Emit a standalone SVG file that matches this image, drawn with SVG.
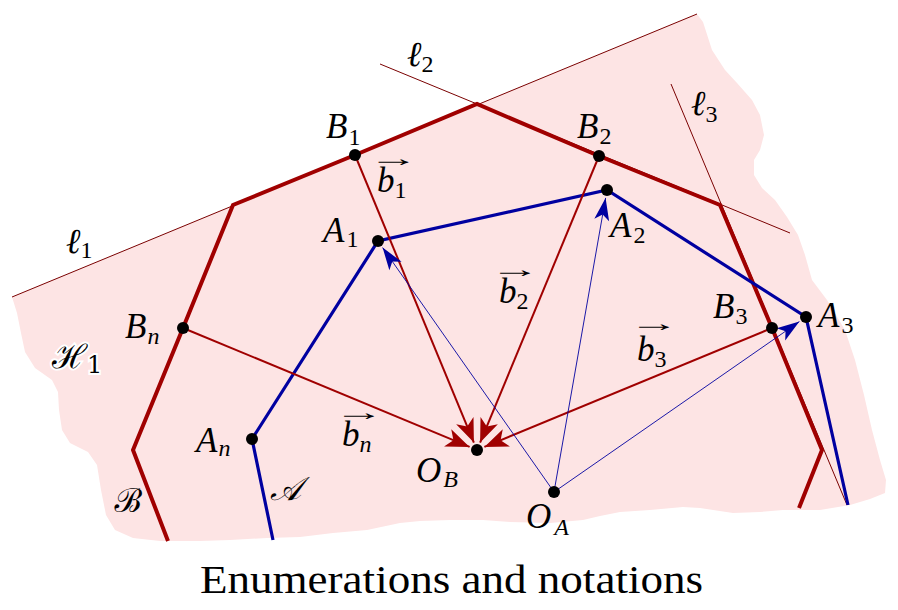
<svg xmlns="http://www.w3.org/2000/svg" width="898" height="610" viewBox="0 0 898 610">
<style>
.lbl{font-family:"Liberation Serif","DejaVu Serif",serif;font-style:italic;font-size:35px;fill:#000}
.sub{font-size:24px;font-style:normal}
.subi{font-size:24px;font-style:italic}
.vec{font-family:"Liberation Serif","DejaVu Serif",serif;font-size:24px;fill:#000}
.cal{font-family:"DejaVu Serif","Noto Sans",serif;font-style:italic;font-size:33px;fill:#000}
.thin{stroke:#7a0000;stroke-width:1;fill:none}
.poly-b{stroke:#a00000;stroke-width:4;fill:none;stroke-linejoin:miter}
.poly-a{stroke:#0000a0;stroke-width:3.2;fill:none;stroke-linejoin:miter}
.vb{stroke:#a00000;stroke-width:2;fill:none;marker-end:url(#ahr)}
.va{stroke:#0000a0;stroke-width:0.9;fill:none;marker-end:url(#ahb)}
.dot{fill:#000}
</style>
<defs>
<marker id="ahr" markerUnits="userSpaceOnUse" markerWidth="30" markerHeight="30" viewBox="-22 -11 24 22" refX="0" refY="0" orient="auto">
<path d="M0,0 L-19,-7.5 L-14,0 L-19,7.5 Z" fill="#a00000"/>
</marker>
<marker id="ahb" markerUnits="userSpaceOnUse" markerWidth="30" markerHeight="30" viewBox="-22 -11 24 22" refX="0" refY="0" orient="auto">
<path d="M0,0 L-18,-6 L-13.5,0 L-18,6 Z" fill="#0000a0"/>
</marker>
</defs>
<rect width="898" height="610" fill="#fff"/>
<g id="region-H1">
<path d="M12,297 L697,14 L703,22 L712,50 L725,70 L737,83 L752,100 L760,115 L764,135 L760,150 L754,160 L754,175 L762,188 L775,200 L787,217 L798,235 L805,255 L812,280 L827,300 L845,330 L855,360 L864,395 L872,430 L880,460 L886,480 L885,493 L870,499 L850,505 L820,510 L783,510 L760,512 L733,513 L700,508 L683,507 L650,510 L620,512 L600,516 L583,520 L550,523 L510,522 L483,520 L450,520 L420,521 L400,523 L367,530 L333,533 L300,537 L267,538 L230,540 L200,541 L160,541 L133,538 L115,530 L106,515 L101,490 L97,465 L88,452 L70,443 L62,430 L59,410 L58,392 L52,380 L35,368 L25,352 L21,333 L17,313 Z" fill="#fde4e4"/>
</g>
<g id="lines">
<line class="thin" x1="12" y1="297" x2="697" y2="14"/>
<line class="thin" x1="380" y1="64" x2="790" y2="233"/>
<line class="thin" x1="671" y1="84" x2="847" y2="505"/>
</g>
<g id="polygon-B">
<polyline class="poly-b" points="168,541 133,450 183,328 233,205 355,155 477,104 599,156 720,205 772,328 822,450 799,508"/>
</g>
<g id="polygon-A">
<polyline class="poly-a" points="273,540 252,439 378,241 607,190 806,317 848,505"/>
</g>
<g id="connectors">
<line class="vb" x1="355" y1="155" x2="473.9" y2="442.6"/>
<line class="vb" x1="599" y1="156" x2="480.1" y2="442.6"/>
<line class="vb" x1="183" y1="328" x2="469.6" y2="446.9"/>
<line class="vb" x1="772" y1="328" x2="484.4" y2="446.9"/>
<line class="va" x1="554" y1="492" x2="382.6" y2="247.6"/>
<line class="va" x1="554" y1="492" x2="605.6" y2="197.9"/>
<line class="va" x1="554" y1="492" x2="799.4" y2="321.6"/>
</g>
<g id="node-B1"><circle class="dot" cx="355" cy="155" r="6"/><text class="lbl" x="326" y="138">B<tspan class="sub" dx="1" dy="7">1</tspan></text></g>
<g id="node-B2"><circle class="dot" cx="599" cy="156" r="6"/><text class="lbl" x="577" y="138">B<tspan class="sub" dx="1" dy="6">2</tspan></text></g>
<g id="node-B3"><circle class="dot" cx="772" cy="328" r="6"/><text class="lbl" x="713" y="318">B<tspan class="sub" dx="1" dy="6">3</tspan></text></g>
<g id="node-Bn"><circle class="dot" cx="183" cy="328" r="6"/><text class="lbl" x="125" y="338">B<tspan class="subi" dx="1" dy="6">n</tspan></text></g>
<g id="node-A1"><circle class="dot" cx="378" cy="241" r="6"/><text class="lbl" x="323" y="242">A<tspan class="sub" dx="2" dy="5">1</tspan></text></g>
<g id="node-A2"><circle class="dot" cx="607" cy="190" r="6"/><text class="lbl" x="610" y="237">A<tspan class="sub" dx="2" dy="6">2</tspan></text></g>
<g id="node-A3"><circle class="dot" cx="806" cy="317" r="6"/><text class="lbl" x="818" y="327">A<tspan class="sub" dx="2" dy="6">3</tspan></text></g>
<g id="node-An"><circle class="dot" cx="252" cy="439" r="6"/><text class="lbl" x="196" y="452">A<tspan class="subi" dx="1" dy="4">n</tspan></text></g>
<g id="node-OB"><circle class="dot" cx="477" cy="450" r="6"/><text class="lbl" x="416" y="482">O<tspan class="subi" dx="2" dy="5">B</tspan></text></g>
<g id="node-OA"><circle class="dot" cx="554" cy="492" r="6"/><text class="lbl" x="526" y="528">O<tspan class="subi" dx="3" dy="7">A</tspan></text></g>
<g id="vector-labels">
<text class="vec" transform="translate(393.5,166) scale(2.1,1)" text-anchor="middle">→</text>
<text class="lbl" x="377" y="192">b<tspan class="sub" dx="0" dy="6">1</tspan></text>
<text class="vec" transform="translate(515,277) scale(2.1,1)" text-anchor="middle">→</text>
<text class="lbl" x="499" y="303">b<tspan class="sub" dx="0" dy="6">2</tspan></text>
<text class="vec" transform="translate(654,331) scale(2.1,1)" text-anchor="middle">→</text>
<text class="lbl" x="637" y="361">b<tspan class="sub" dx="0" dy="6">3</tspan></text>
<text class="vec" transform="translate(359,420) scale(2.1,1)" text-anchor="middle">→</text>
<text class="lbl" x="342" y="446">b<tspan class="subi" dx="0" dy="6">n</tspan></text>
</g>
<g id="line-labels">
<text class="lbl" x="66" y="253">ℓ<tspan class="sub" dx="0" dy="5">1</tspan></text>
<text class="lbl" x="407" y="66">ℓ<tspan class="sub" dx="0" dy="6">2</tspan></text>
<text class="lbl" x="691" y="115">ℓ<tspan class="sub" dx="0" dy="7">3</tspan></text>
</g>
<g id="set-labels">
<text class="cal" x="52" y="368" stroke="#fff" stroke-width="4" paint-order="stroke">ℋ<tspan class="sub" x="87" y="373">1</tspan></text>
<text class="cal" x="270" y="500">𝒜</text>
<text class="cal" x="114" y="512">ℬ</text>
</g>
<text x="200" y="593" font-family="Liberation Serif, serif" font-size="39" textLength="503" lengthAdjust="spacingAndGlyphs">Enumerations and notations</text>
</svg>
